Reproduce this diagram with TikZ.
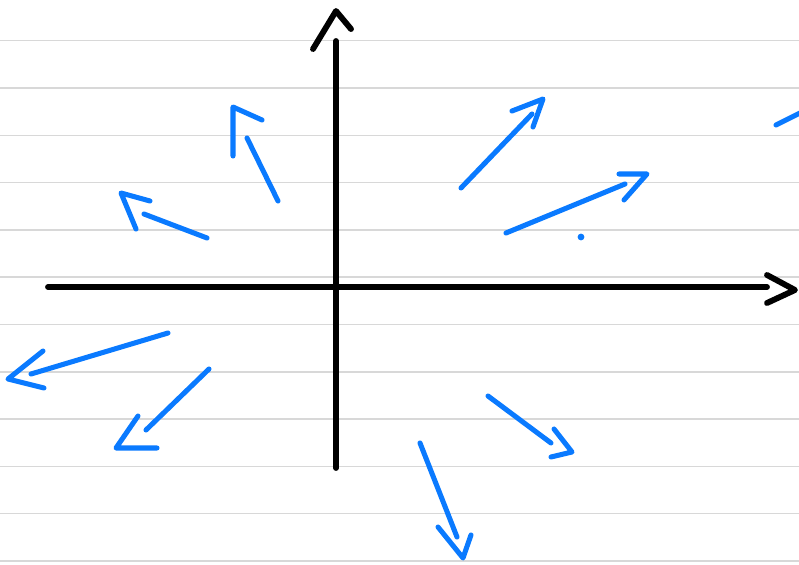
\documentclass[tikz,border=0pt]{standalone}
\usepackage{tikz}

\definecolor{penblue}{RGB}{10,122,255}
\definecolor{ruleline}{RGB}{216,216,216}

\begin{document}
\begin{tikzpicture}[x=0.03cm, y=-0.03cm,
	ruled/.style={ruleline, line width=1.3pt},
	axis/.style={black, line width=5pt, line cap=round, line join=round},
	pen/.style={penblue, line width=4.3pt, line cap=round, line join=round}]

		\useasboundingbox (0,0) rectangle (799,565);

		\foreach \k in {0,...,11}
			\draw[ruled] (0,{40.7+47.3*\k}) -- (799,{40.7+47.3*\k});

		\draw[axis] (48,287) -- (767,287);
		\draw[axis] (767,275) -- (795,290) -- (767,303);
		\draw[axis] (336,468) -- (336,41);
		\draw[axis] (313,49) -- (336,11) -- (351,29);

		\draw[pen] (278,201) -- (247,138);
		\draw[pen] (233,156) -- (233,107) -- (262,120);

		\draw[pen] (207,238) -- (144,214);
		\draw[pen] (136,229) -- (121,193) -- (150,201);

		\draw[pen] (461,188) -- (532,114);
		\draw[pen] (512,111) -- (543,99) -- (533,127);

		\draw[pen] (506,233) -- (625,184);
		\draw[pen] (619,174) -- (647,174) -- (624,200);

		\fill[penblue] (581,237) circle (3.4);

		\draw[pen] (776,125) -- (800,113);

		\draw[pen] (168,333) -- (31,374);
		\draw[pen] (43,351) -- (8,379) -- (44,388);

		\draw[pen] (209,369) -- (146,430);
		\draw[pen] (138,416) -- (116,448) -- (157,448);

		\draw[pen] (488,396) -- (551,443);
		\draw[pen] (554,429) -- (572,452) -- (551,457);

		\draw[pen] (420,443) -- (457,537);
		\draw[pen] (438,527) -- (463,558) -- (471,535);
		\end{tikzpicture}
\end{document}
